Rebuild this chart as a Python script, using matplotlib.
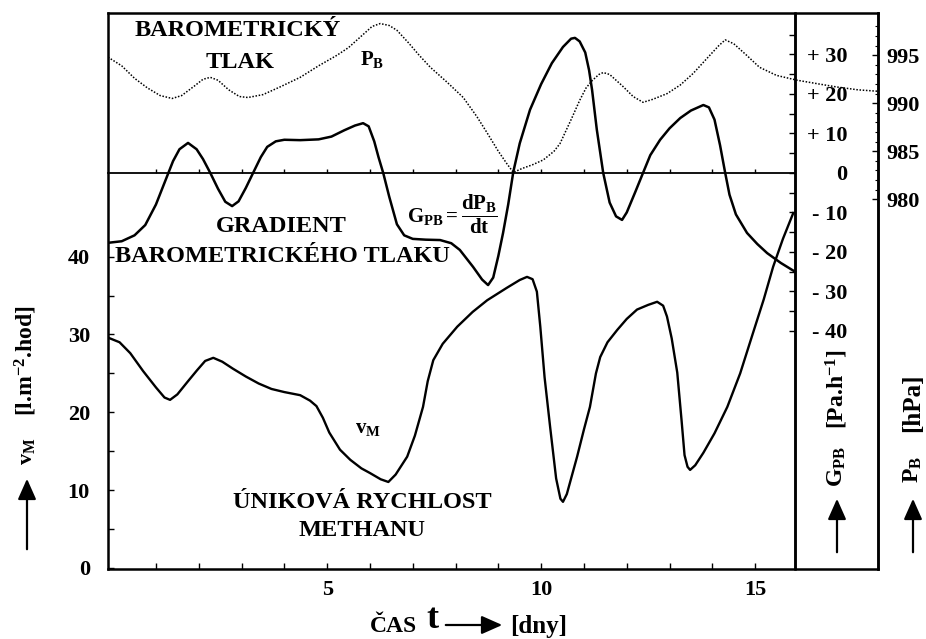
import matplotlib
matplotlib.use("Agg")
import matplotlib.pyplot as plt
from matplotlib.ticker import FixedLocator

plt.rcParams["font.family"] = ["Liberation Serif", "DejaVu Serif"]
plt.rcParams["font.weight"] = "bold"
plt.rcParams["mathtext.fontset"] = "custom"
plt.rcParams["mathtext.rm"] = "Liberation Serif:bold"
plt.rcParams["mathtext.it"] = "Liberation Serif:bold"
plt.rcParams["mathtext.bf"] = "Liberation Serif:bold"

# barometric pressure P_B [hPa]
t_p = [-0.12, 0.2, 0.5, 0.8, 1.1, 1.38, 1.6, 1.9, 2.1, 2.27, 2.45, 2.7, 2.95,
       3.15, 3.5, 3.9, 4.37, 4.8, 5.23, 5.5, 5.8, 6.05, 6.24, 6.45, 6.63, 6.9,
       7.15, 7.41, 7.8, 8.18, 8.5, 8.74, 9.0, 9.2, 9.35, 9.55, 9.8, 10.05,
       10.3, 10.44, 10.7, 10.9, 11.05, 11.2, 11.35, 11.45, 11.6, 11.9, 12.15,
       12.38, 12.6, 12.94, 13.25, 13.55, 13.9, 14.15, 14.3, 14.5, 14.8, 15.1,
       15.5, 15.98, 16.5, 16.9, 17.4, 17.87]
p_b = [994.8, 993.9, 992.6, 991.6, 990.8, 990.5, 990.8, 991.8, 992.5, 992.7,
       992.4, 991.4, 990.7, 990.6, 990.9, 991.7, 992.7, 993.9, 995.0, 995.8,
       997.0, 998.0, 998.3, 998.1, 997.6, 996.3, 995.0, 993.75, 992.2, 990.6,
       988.6, 986.9, 985.0, 983.7, 982.8, 983.2, 983.6, 984.1, 985.0, 985.8,
       988.3, 990.3, 991.6, 992.4, 993.0, 993.2, 993.0, 991.8, 990.7, 990.1,
       990.4, 991.0, 991.9, 993.1, 994.8, 996.0, 996.6, 996.2, 995.0, 993.75,
       992.9, 992.4, 992.0, 991.7, 991.4, 991.25]

# gradient G_PB [Pa/h]
t_g = [-0.12, 0.2, 0.5, 0.75, 1.0, 1.2, 1.4, 1.55, 1.75, 1.95, 2.1, 2.27, 2.45,
       2.62, 2.78, 2.93, 3.1, 3.27, 3.45, 3.6, 3.8, 4.0, 4.37, 4.8, 5.1, 5.4,
       5.65, 5.84, 5.97, 6.1, 6.2, 6.31, 6.45, 6.63, 6.8, 7.0, 7.3, 7.64, 7.9,
       8.1, 8.41, 8.62, 8.76, 8.88, 9.0, 9.11, 9.23, 9.35, 9.5, 9.74, 10.0,
       10.25, 10.51, 10.7, 10.79, 10.9, 11.03, 11.12, 11.19, 11.3, 11.45, 11.6,
       11.75, 11.89, 12.0, 12.2, 12.38, 12.55, 12.78, 13.0, 13.25, 13.5, 13.79,
       13.92, 14.05, 14.18, 14.3, 14.4, 14.55, 14.81, 15.05, 15.28, 15.6,
       15.93]
g_pb = [-17.7, -17.3, -15.8, -13.2, -8.0, -2.5, 3.0, 6.0, 7.6, 6.0, 3.5, 0.0,
        -4.0, -7.3, -8.4, -7.2, -3.8, 0.0, 4.0, 6.6, 8.0, 8.4, 8.3, 8.5, 9.2,
        10.8, 12.0, 12.6, 11.8, 8.0, 4.0, 0.0, -6.0, -13.0, -15.8, -16.7,
        -16.9, -17.0, -17.8, -19.5, -23.8, -27.0, -28.4, -26.5, -21.0, -15.2,
        -8.0, 0.3, 7.5, 16.0, 22.5, 27.8, 31.9, 34.0, 34.2, 33.3, 30.5, 26.0,
        21.0, 11.0, 0.0, -7.5, -11.0, -11.9, -10.0, -4.8, 0.0, 4.5, 8.4, 11.3,
        13.9, 15.8, 17.2, 16.6, 13.5, 7.0, 0.0, -5.5, -10.5, -15.2, -18.0,
        -20.3, -22.8, -25.0]

# methane escape rate v_M [l/m2/h]
t_v = [-0.12, 0.15, 0.4, 0.7, 1.0, 1.2, 1.33, 1.5, 1.75, 1.96, 2.15, 2.34, 2.55,
       2.8, 3.1, 3.4, 3.7, 4.0, 4.37, 4.6, 4.75, 4.9, 5.05, 5.3, 5.54, 5.8,
       6.0, 6.25, 6.43, 6.6, 6.87, 7.05, 7.24, 7.35, 7.48, 7.7, 8.04, 8.4,
       8.74, 9.2, 9.5, 9.67, 9.8, 9.9, 9.98, 10.08, 10.21, 10.35, 10.45, 10.51,
       10.6, 10.84, 11.0, 11.14, 11.28, 11.38, 11.55, 11.78, 12.0, 12.24, 12.5,
       12.71, 12.85, 12.94, 13.05, 13.18, 13.28, 13.35, 13.42, 13.48, 13.6,
       13.79, 14.05, 14.35, 14.65, 14.95, 15.2, 15.42, 15.65, 15.89]
v_m = [29.6, 29.0, 27.6, 25.3, 23.2, 21.9, 21.6, 22.3, 24.0, 25.4, 26.6, 27.0,
       26.5, 25.6, 24.6, 23.7, 23.0, 22.6, 22.2, 21.5, 20.8, 19.3, 17.4, 15.2,
       13.9, 12.8, 12.2, 11.4, 11.05, 12.0, 14.3, 17.0, 20.7, 24.0, 26.7, 28.8,
       31.0, 32.9, 34.4, 36.0, 37.0, 37.4, 37.1, 35.5, 31.0, 24.5, 18.1, 11.5,
       8.9, 8.5, 9.5, 14.3, 17.8, 20.7, 25.0, 27.1, 29.0, 30.6, 32.0, 33.2,
       33.8, 34.2, 33.7, 32.3, 29.5, 25.1, 19.0, 14.5, 13.0, 12.6, 13.2, 14.8,
       17.3, 20.7, 25.0, 30.2, 34.5, 38.7, 42.3, 45.6]

v_ticks = [0, 10, 20, 30, 40]
g_ticks = [30, 20, 10, 0, -10, -20, -30, -40]
g_labels = ["+ 30", "+ 20", "+ 10", "0", "- 10", "- 20", "- 30", "- 40"]
p_ticks = [980, 985, 990, 995]
x_ticks = [5, 10, 15]

W, H = 926, 639
fig = plt.figure(figsize=(W / 100, H / 100), dpi=100)
L, R, T, B = 108, 878, 13, 569
ax = fig.add_axes([L / W, 1 - B / H, (R - L) / W, (B - T) / H])
X0, X1, XIN = -0.12, 17.87, 15.93

ax.plot(t_v, v_m, color="black", lw=1.7, solid_joinstyle="round")
ax.set_xlim(X0, X1)
ax.set_ylim(-0.13, 71.3)
ax.axvline(XIN, color="black", lw=1.8)
for s in ax.spines.values():
    s.set_linewidth(1.8)
ax.yaxis.set_major_locator(FixedLocator(v_ticks))
ax.yaxis.set_minor_locator(FixedLocator([5, 15, 25, 35]))
ax.xaxis.set_major_locator(FixedLocator(x_ticks))
ax.xaxis.set_minor_locator(FixedLocator(range(1, 16)))
ax.tick_params(axis="both", which="both", direction="in", length=4.5, width=1.0)
ax.tick_params(axis="y", labelsize=16, pad=13)
ax.tick_params(axis="x", labelsize=16, pad=8)
ax.tick_params(right=False, top=False, which="both")

# gradient axis on the inner vertical line
axG = ax.twinx()
axG.plot(t_g, g_pb, color="black", lw=1.8, solid_joinstyle="round")
axG.set_ylim(-100.3, 40.5)
for name in ["left", "top"]:
    axG.spines[name].set_visible(False)
axG.spines["right"].set_position(("data", XIN))
axG.spines["right"].set_linewidth(1.8)
axG.spines["bottom"].set_position(("data", 0))
axG.spines["bottom"].set_bounds(X0, XIN)
axG.spines["bottom"].set_linewidth(1.3)
axG.xaxis.set_visible(True)
axG.tick_params(axis="x", which="both", direction="in", length=3, width=1.0,
                labelbottom=False, top=False)
axG.yaxis.set_major_locator(FixedLocator(g_ticks))
axG.yaxis.set_minor_locator(FixedLocator(range(-35, 40, 10)))
axG.set_yticklabels(g_labels)
axG.tick_params(axis="y", which="both", direction="in", length=4, width=1.0,
                labelsize=16, pad=38)
for lab in axG.get_yticklabels():
    lab.set_horizontalalignment("right")

# pressure axis on the outer frame
axP = ax.twinx()
axP.plot(t_p, p_b, color="black", lw=1.1, linestyle=(0, (1, 1.1)))
axP.set_ylim(941.5, 999.4)
for name in ["left", "top", "bottom"]:
    axP.spines[name].set_visible(False)
axP.spines["right"].set_linewidth(1.8)
axP.yaxis.set_major_locator(FixedLocator(p_ticks))
axP.yaxis.set_minor_locator(FixedLocator(range(980, 999)))
axP.tick_params(axis="y", which="major", direction="in", length=4, width=1.0,
                labelsize=16, pad=6)
axP.tick_params(axis="y", which="minor", direction="in", length=2.5, width=0.8)


def ftext(px, py, s, size=17, **kw):
    fig.text(px / W, 1 - py / H, s, fontsize=size, fontweight="bold",
             ha=kw.pop("ha", "center"), va=kw.pop("va", "center"), **kw)


def farrow(x0, y0, x1, y1):
    fig.add_artist(matplotlib.patches.FancyArrowPatch(
        (x0 / W, 1 - y0 / H), (x1 / W, 1 - y1 / H), transform=fig.transFigure,
        arrowstyle="-|>,head_length=0.9,head_width=0.4", mutation_scale=14,
        lw=1.6, color="black"))


ftext(238, 31, "BAROMETRICKÝ", size=17.5)
ftext(240, 62, "TLAK", size=17.5)
ftext(372, 60, "$P_B$", size=15)
ftext(281, 227, "GRADIENT", size=17.5)
ftext(282, 256, "BAROMETRICKÉHO TLAKU", size=17.5)
ftext(452, 214, r"$G_{PB}=\dfrac{dP_B}{dt}$", size=15)
ftext(368, 428, "$v_M$", size=15)
ftext(362, 502, "ÚNIKOVÁ RYCHLOST", size=17.5)
ftext(362, 531, "METHANU", size=17.5)

# axis titles
ftext(393, 626, "ČAS", size=17)
ftext(432, 620, "t", size=26)
farrow(443, 625, 505, 625)
ftext(510, 626, "[dny]", size=18, ha="left")

ftext(26, 361, "[l.m$^{-2}$.hod]", size=17, rotation=90)
ftext(27, 451, "$v_M$", size=16, rotation=90)
farrow(27, 552, 27, 476)

ftext(837, 389, "[Pa.h$^{-1}$]", size=17, rotation=90)
ftext(837, 467, "$G_{PB}$", size=17, rotation=90)
farrow(837, 555, 837, 496)

ftext(913, 403, "[hPa]", size=18, rotation=90)
ftext(913, 470, "$P_B$", size=17, rotation=90)
farrow(913, 555, 913, 496)

fig.savefig("out.png", dpi=100)
